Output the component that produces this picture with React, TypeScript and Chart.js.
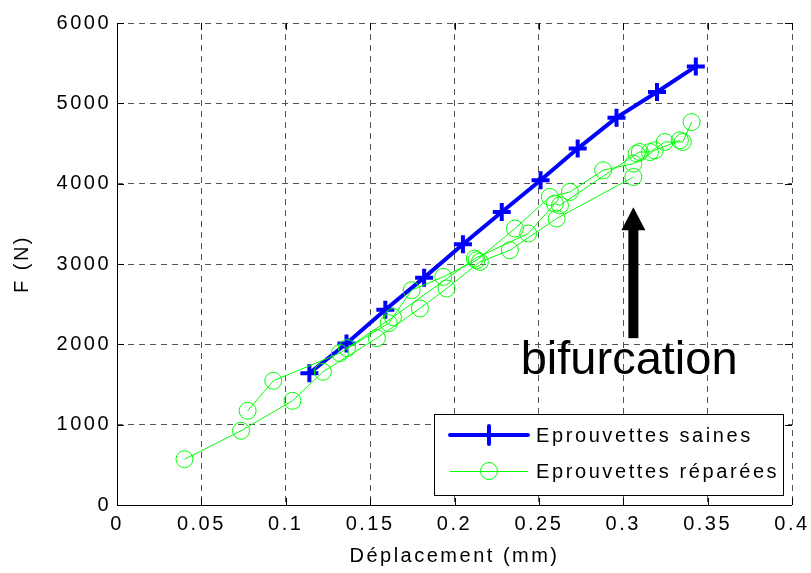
import React, { useEffect, useRef } from 'react';
import { Chart, registerables } from 'chart.js';

Chart.register(...registerables);

// Eprouvettes saines (blue, "+")
const saineX = [0.114, 0.136, 0.159, 0.182, 0.205, 0.228, 0.251, 0.273, 0.296, 0.320, 0.343];
const saineF = [1640, 2010, 2430, 2830, 3245, 3648, 4042, 4437, 4822, 5141, 5460];

// Eprouvettes réparées (green, "o") – three specimens
const rep1X = [0.040, 0.0735, 0.104, 0.122, 0.154, 0.1795, 0.1953, 0.215, 0.2328, 0.2605, 0.306];
const rep1F = [570, 924, 1297, 1658, 2077, 2447, 2695, 3026, 3172, 3566, 4083];
const rep2X = [0.0774, 0.0926, 0.1321, 0.161, 0.1746, 0.1933, 0.2131, 0.2358, 0.2565, 0.2684, 0.2881, 0.306, 0.3187, 0.3335];
const rep2F = [1173, 1546, 1891, 2264, 2674, 2840, 3047, 3441, 3835, 3897, 4167, 4250, 4415, 4540];
const rep3X = [0.1363, 0.1635, 0.212, 0.2437, 0.2595, 0.2625, 0.3079, 0.3098, 0.3158, 0.3246, 0.3353, 0.3405];
const rep3F = [1953, 2338, 3068, 3379, 3752, 3731, 4374, 4394, 4394, 4519, 4519, 4767];

const xMin = 0, xMax = 0.4, xStep = 0.05;
const yMin = 0, yMax = 6000, yStep = 1000;

const xTitle = 'Déplacement (mm)';
const yTitle = 'F (N)';
const legendLabels = ['Eprouvettes saines', 'Eprouvettes réparées'];

// annotation (data units)
const annotText = 'bifurcation';
const annotTextX = 0.3035;
const annotTextF = 1625;
const arrowX = 0.306;
const arrowTipF = 3706;
const arrowHeadBaseF = 3420;
const arrowBottomF = 2077;

const FONT = '"Liberation Sans", Arial, Helvetica, sans-serif';
const BLUE = '#0000ff';
const GREEN = '#00ff00';

const zip = (xs: number[], ys: number[]) => xs.map((x, i) => ({ x, y: ys[i] }));

const overlay = {
  id: 'overlay',
  beforeUpdate(chart: any) {
    chart.ctx.letterSpacing = '2.5px';
  },
  beforeDatasetsDraw(chart: any) {
    const { ctx, chartArea: a, scales } = chart;
    const x = scales.x, y = scales.y;
    ctx.save();
    ctx.strokeStyle = '#000';
    ctx.lineWidth = 1;
    ctx.setLineDash([]);
    ctx.beginPath();
    ctx.moveTo(a.left + 0.5, a.top);
    ctx.lineTo(a.left + 0.5, a.bottom + 0.5);
    ctx.lineTo(a.right, a.bottom + 0.5);
    const tl = 7;
    x.ticks.forEach((t: any) => {
      const px = Math.round(x.getPixelForValue(t.value)) + 0.5;
      ctx.moveTo(px, a.bottom);
      ctx.lineTo(px, a.bottom - tl);
      ctx.moveTo(px, a.top);
      ctx.lineTo(px, a.top + tl);
    });
    y.ticks.forEach((t: any) => {
      const py = Math.round(y.getPixelForValue(t.value)) + 0.5;
      ctx.moveTo(a.left, py);
      ctx.lineTo(a.left + tl, py);
      ctx.moveTo(a.right, py);
      ctx.lineTo(a.right - tl, py);
    });
    ctx.stroke();
    ctx.restore();
  },
  afterDatasetsDraw(chart: any) {
    const { ctx, chartArea: a, scales } = chart;
    const x = scales.x, y = scales.y;
    ctx.save();
    ctx.setLineDash([]);
    // arrow
    const ax = x.getPixelForValue(arrowX);
    const tipY = y.getPixelForValue(arrowTipF);
    const baseY = y.getPixelForValue(arrowHeadBaseF);
    const botY = y.getPixelForValue(arrowBottomF);
    ctx.fillStyle = '#000';
    ctx.fillRect(ax - 5, baseY - 1, 10, botY - baseY + 1);
    ctx.beginPath();
    ctx.moveTo(ax, tipY);
    ctx.lineTo(ax + 12, baseY);
    ctx.lineTo(ax - 12, baseY);
    ctx.closePath();
    ctx.fill();
    // text
    ctx.letterSpacing = '0px';
    ctx.font = `47px ${FONT}`;
    ctx.textAlign = 'center';
    ctx.textBaseline = 'alphabetic';
    ctx.fillText(annotText, x.getPixelForValue(annotTextX), y.getPixelForValue(annotTextF));

    // legend
    const bw = 349, bh = 81;
    const bx = a.right - 358, by = a.bottom - 91;
    ctx.fillStyle = '#fff';
    ctx.fillRect(bx, by, bw, bh);
    ctx.strokeStyle = '#000';
    ctx.lineWidth = 1;
    ctx.strokeRect(bx + 0.5, by + 0.5, bw, bh);
    const lx0 = bx + 16, lx1 = bx + 94, lm = bx + 55;
    const r1 = by + 21, r2 = by + 57;
    // row 1
    ctx.strokeStyle = BLUE;
    ctx.lineWidth = 4;
    ctx.lineCap = 'round';
    ctx.beginPath();
    ctx.moveTo(lx0, r1);
    ctx.lineTo(lx1, r1);
    ctx.moveTo(lm, r1 - 9);
    ctx.lineTo(lm, r1 + 9);
    ctx.stroke();
    // row 2
    ctx.strokeStyle = GREEN;
    ctx.lineWidth = 1;
    ctx.lineCap = 'butt';
    ctx.beginPath();
    ctx.moveTo(lx0, r2 + 0.5);
    ctx.lineTo(lx1, r2 + 0.5);
    ctx.stroke();
    ctx.beginPath();
    ctx.arc(lm, r2, 8.5, 0, Math.PI * 2);
    ctx.stroke();
    ctx.fillStyle = '#000';
    ctx.font = `20px ${FONT}`;
    ctx.letterSpacing = '2.6px';
    ctx.textAlign = 'left';
    ctx.textBaseline = 'middle';
    ctx.fillText(legendLabels[0], bx + 102, r1 + 1);
    ctx.fillText(legendLabels[1], bx + 102, r2 + 1);
    ctx.restore();
  },
};

const greenDs = (label: string, xs: number[], ys: number[]) => ({
  label,
  data: zip(xs, ys),
  borderColor: GREEN,
  borderWidth: 1,
  pointStyle: 'circle',
  pointRadius: 8.5,
  pointBorderWidth: 1,
  pointBorderColor: GREEN,
  pointBackgroundColor: 'rgba(0,0,0,0)',
  backgroundColor: 'rgba(0,0,0,0)',
  showLine: true,
  tension: 0,
  order: 1,
});

export default function App() {
  const ref = useRef<HTMLCanvasElement | null>(null);
  useEffect(() => {
    document.body.style.margin = '0';
    const canvas = ref.current;
    if (!canvas) return;
    const chart = new Chart(canvas, {
      type: 'scatter',
      data: {
        datasets: [
          {
            label: legendLabels[0],
            data: zip(saineX, saineF),
            borderColor: BLUE,
            borderWidth: 4,
            pointStyle: 'cross',
            pointRadius: 9,
            pointBorderWidth: 4,
            pointBorderColor: BLUE,
            backgroundColor: BLUE,
            showLine: true,
            tension: 0,
            order: 2,
          } as any,
          greenDs(legendLabels[1], rep1X, rep1F) as any,
          greenDs(legendLabels[1] + ' 2', rep2X, rep2F) as any,
          greenDs(legendLabels[1] + ' 3', rep3X, rep3F) as any,
        ],
      },
      options: {
        responsive: false,
        animation: false,
        devicePixelRatio: 1,
        layout: { padding: { left: 0, right: 19, top: 23, bottom: 0 } },
        plugins: {
          legend: { display: false },
          tooltip: { enabled: false },
        },
        scales: {
          x: {
            type: 'linear',
            min: xMin,
            max: xMax,
            afterFit: (s: any) => { s.height = 68; s.paddingLeft = 0; s.paddingRight = 0; },
            ticks: {
              stepSize: xStep,
              color: '#000',
              font: { family: FONT, size: 20 },
              padding: 7,
              maxRotation: 0,
              autoSkip: false,
              callback: (v: any) => String(parseFloat(Number(v).toFixed(2))),
            },
            grid: { color: '#555', lineWidth: 1, drawTicks: false },
            border: { display: false, dash: [6, 5] },
            title: {
              display: true,
              text: xTitle,
              color: '#000',
              font: { family: FONT, size: 20 },
              padding: { top: 0, bottom: 5 },
            },
          },
          y: {
            type: 'linear',
            min: yMin,
            max: yMax,
            afterFit: (s: any) => { s.width = 117; s.paddingTop = 0; s.paddingBottom = 0; },
            ticks: {
              stepSize: yStep,
              color: '#000',
              font: { family: FONT, size: 20 },
              padding: 6,
              autoSkip: false,
              callback: (v: any) => String(v),
            },
            grid: { color: '#555', lineWidth: 1, drawTicks: false },
            border: { display: false, dash: [6, 5] },
            title: {
              display: true,
              text: yTitle,
              color: '#000',
              font: { family: FONT, size: 20 },
              padding: { top: 10, bottom: 0 },
            },
          },
        },
      } as any,
      plugins: [overlay],
    });
    return () => chart.destroy();
  }, []);
  return (
    <div style={{ width: 811, height: 573, background: '#fff' }}>
      <canvas ref={ref} width={811} height={573} style={{ display: 'block' }} />
    </div>
  );
}
